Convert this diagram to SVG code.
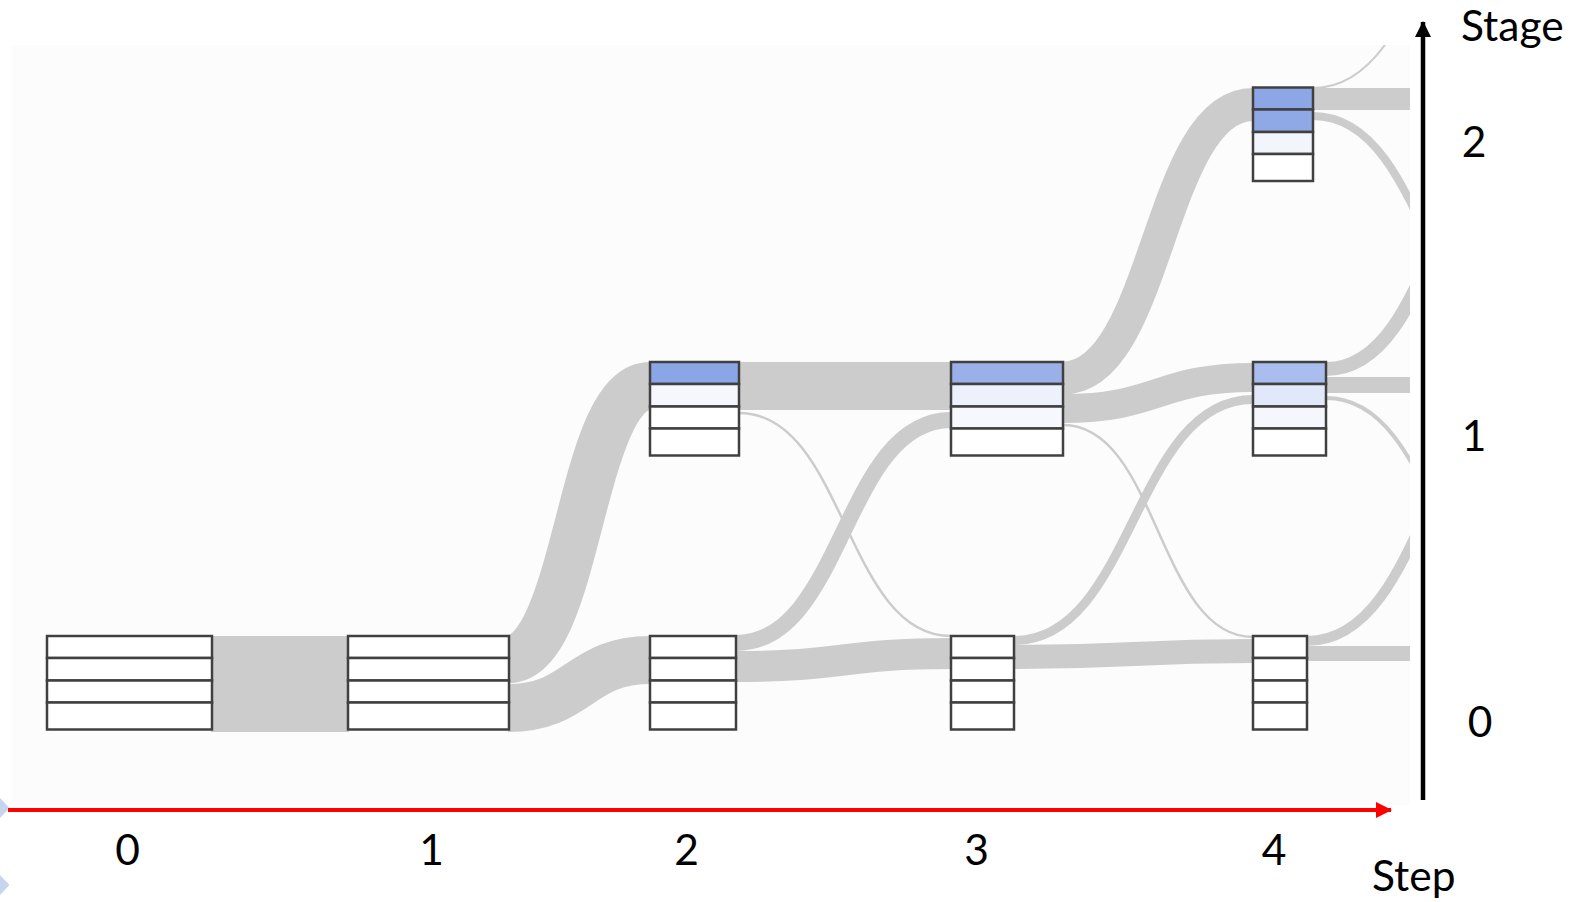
<svg xmlns="http://www.w3.org/2000/svg" width="1574" height="902" viewBox="0 0 1574 902">
  <style>
    .flow { fill: none; stroke: #cccccc; }
    .cell { stroke: #404040; stroke-width: 2.5; }
    .blank { fill: #ffffff; }
    .label { font-family: Lato, "Liberation Sans", sans-serif; font-size: 42.5px; fill: #000000; }
  </style>
  <defs>
    <clipPath id="plotClip">
      <rect x="12" y="45" width="1398" height="760"/>
    </clipPath>
    <marker id="redHead" viewBox="0 0 16 16" refX="15" refY="8" markerWidth="16" markerHeight="16" markerUnits="userSpaceOnUse" orient="auto">
      <path d="M0,0 L16,8 L0,16 Z" fill="#ff0000"/>
    </marker>
    <marker id="blackHead" viewBox="0 0 16 16" refX="15" refY="8" markerWidth="16" markerHeight="16" markerUnits="userSpaceOnUse" orient="auto">
      <path d="M0,0 L16,8 L0,16 Z" fill="#000000"/>
    </marker>
  </defs>

  <rect width="1574" height="902" fill="#ffffff"/>
  <rect x="12" y="45" width="1398" height="760" fill="#fcfcfc"/>

  <!-- side chevrons -->
  <polygon points="0,798 9.5,808 0,818" fill="#c6d4ee"/>
  <polygon points="0,875 9.5,885 0,895" fill="#c6d4ee"/>

  <!-- flows between the step/stage blocks -->
  <g id="connectors" clip-path="url(#plotClip)">
    <path class="flow" stroke-width="96" d="M211,684 L349,684"/>
    <path class="flow" stroke-width="48" d="M508,659 C579,659 579,386 650,386"/>
    <path class="flow" stroke-width="48" d="M508,708 C579,708 579,660 650,660"/>
    <path class="flow" stroke-width="48" d="M738,386 L952,386"/>
    <path class="flow" stroke-width="2.5" d="M739,413 C845,413 845,636 951,636"/>
    <path class="flow" stroke-width="16" d="M736,643 C843.5,643 843.5,420 951,420"/>
    <path class="flow" stroke-width="31" d="M736,666.5 C843.5,666.5 843.5,653.5 951,653.5"/>
    <path class="flow" stroke-width="33" d="M1063,378 C1158,378 1158,104.5 1253,104.5"/>
    <path class="flow" stroke-width="29" d="M1063,408.5 C1158,408.5 1158,377.5 1253,377.5"/>
    <path class="flow" stroke-width="2.5" d="M1063,425 C1158,425 1158,637 1253,637"/>
    <path class="flow" stroke-width="9" d="M1014,640.5 C1133.5,640.5 1133.5,399.5 1253,399.5"/>
    <path class="flow" stroke-width="24" d="M1014,657 C1133.5,657 1133.5,651 1253,651"/>
    <path class="flow" stroke-width="2" d="M1313,88 C1433.5,88 1433.5,-185 1554,-185"/>
    <path class="flow" stroke-width="22" d="M1313,99 L1420,99"/>
    <path class="flow" stroke-width="8" d="M1313,116 C1433.5,116 1433.5,388 1554,388"/>
    <path class="flow" stroke-width="14" d="M1326,369 C1440,369 1440,100 1554,100"/>
    <path class="flow" stroke-width="16" d="M1326,385 L1420,385"/>
    <path class="flow" stroke-width="4" d="M1326,398 C1440,398 1440,641 1554,641"/>
    <path class="flow" stroke-width="10" d="M1307,641 C1430.5,641 1430.5,363 1554,363"/>
    <path class="flow" stroke-width="15" d="M1307,653.5 L1420,653.5"/>
  </g>

  <!-- blocks: four stacked cells each -->
  <g id="step0-stage0">
    <rect class="cell blank" x="47" y="636" width="165" height="22"/>
    <rect class="cell blank" x="47" y="658" width="165" height="22.5"/>
    <rect class="cell blank" x="47" y="680.5" width="165" height="22"/>
    <rect class="cell blank" x="47" y="702.5" width="165" height="27"/>
  </g>
  <g id="step1-stage0">
    <rect class="cell blank" x="348" y="636" width="161" height="22"/>
    <rect class="cell blank" x="348" y="658" width="161" height="22.5"/>
    <rect class="cell blank" x="348" y="680.5" width="161" height="22"/>
    <rect class="cell blank" x="348" y="702.5" width="161" height="27"/>
  </g>
  <g id="step2-stage0">
    <rect class="cell blank" x="650" y="636" width="86" height="22"/>
    <rect class="cell blank" x="650" y="658" width="86" height="22.5"/>
    <rect class="cell blank" x="650" y="680.5" width="86" height="22"/>
    <rect class="cell blank" x="650" y="702.5" width="86" height="27"/>
  </g>
  <g id="step2-stage1">
    <rect class="cell" x="650" y="362" width="89" height="22" fill="#8ba6e7"/>
    <rect class="cell" x="650" y="384" width="89" height="22.5" fill="#f5f7fd"/>
    <rect class="cell blank" x="650" y="406.5" width="89" height="22"/>
    <rect class="cell blank" x="650" y="428.5" width="89" height="27"/>
  </g>
  <g id="step3-stage0">
    <rect class="cell blank" x="951" y="636" width="63" height="22"/>
    <rect class="cell blank" x="951" y="658" width="63" height="22.5"/>
    <rect class="cell blank" x="951" y="680.5" width="63" height="22"/>
    <rect class="cell blank" x="951" y="702.5" width="63" height="27"/>
  </g>
  <g id="step3-stage1">
    <rect class="cell" x="951" y="362" width="112" height="22" fill="#9ab0e8"/>
    <rect class="cell" x="951" y="384" width="112" height="22.5" fill="#edf1fb"/>
    <rect class="cell" x="951" y="406.5" width="112" height="22" fill="#f7f8fe"/>
    <rect class="cell blank" x="951" y="428.5" width="112" height="27"/>
  </g>
  <g id="step4-stage0">
    <rect class="cell blank" x="1253" y="636" width="54" height="22"/>
    <rect class="cell blank" x="1253" y="658" width="54" height="22.5"/>
    <rect class="cell blank" x="1253" y="680.5" width="54" height="22"/>
    <rect class="cell blank" x="1253" y="702.5" width="54" height="27"/>
  </g>
  <g id="step4-stage1">
    <rect class="cell" x="1253" y="362" width="73" height="22" fill="#a9bdee"/>
    <rect class="cell" x="1253" y="384" width="73" height="22.5" fill="#e0e8f9"/>
    <rect class="cell" x="1253" y="406.5" width="73" height="22" fill="#f6f7fd"/>
    <rect class="cell blank" x="1253" y="428.5" width="73" height="27"/>
  </g>
  <g id="step4-stage2">
    <rect class="cell" x="1253" y="87.5" width="60" height="22" fill="#8ca6e6"/>
    <rect class="cell" x="1253" y="109.5" width="60" height="22.5" fill="#8fa9e7"/>
    <rect class="cell" x="1253" y="132" width="60" height="22" fill="#f3f5fc"/>
    <rect class="cell blank" x="1253" y="154" width="60" height="27"/>
  </g>

  <!-- axes -->
  <g id="axes">
    <line x1="8" y1="810" x2="1391" y2="810" stroke="#ff0000" stroke-width="4" marker-end="url(#redHead)"/>
    <line x1="1423" y1="800" x2="1423" y2="22" stroke="#000000" stroke-width="4.5" marker-end="url(#blackHead)"/>
  </g>

  <g id="axis-labels">
    <text class="label" x="1461" y="41">Stage</text>
    <text class="label" x="1474" y="157" text-anchor="middle">2</text>
    <text class="label" x="1474" y="451" text-anchor="middle">1</text>
    <text class="label" x="1480" y="737" text-anchor="middle">0</text>
    <text class="label" x="127.5" y="865" text-anchor="middle">0</text>
    <text class="label" x="431.5" y="865" text-anchor="middle">1</text>
    <text class="label" x="686.5" y="865" text-anchor="middle">2</text>
    <text class="label" x="976.5" y="865" text-anchor="middle">3</text>
    <text class="label" x="1274" y="865" text-anchor="middle">4</text>
    <text class="label" x="1372" y="891">Step</text>
  </g>
</svg>
